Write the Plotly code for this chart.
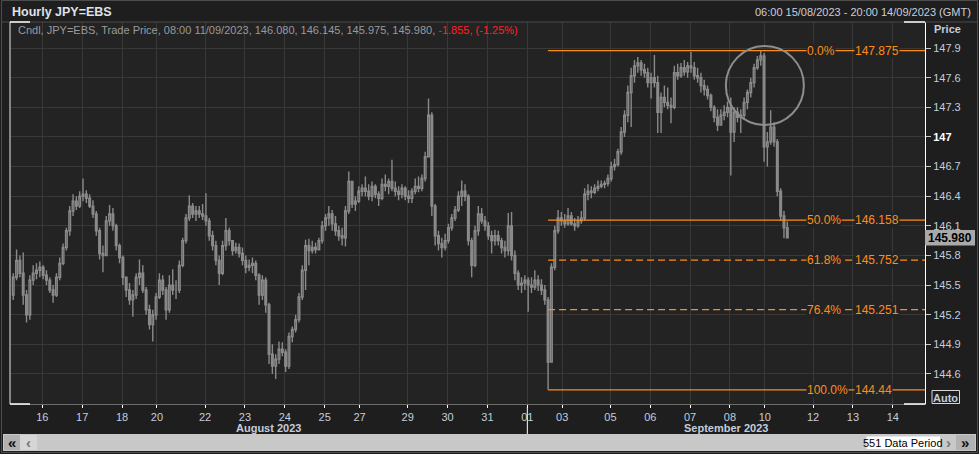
import plotly.graph_objects as go
from datetime import datetime, timedelta

# ---------------- data ----------------
start_time = "2023-08-15 06:00"
n_periods = 551
first_open = 145.40

# 2-hour bars (low, high, close), Aug 15 06:00 -> Sep 11 08:00
bar_low = [
    145.35, 145.55, 145.58, 145.30, 145.12, 145.15, 145.50, 145.56, 145.58, 145.56,
    145.50, 145.42, 145.32, 145.38, 145.55, 145.70, 145.85, 146.00, 146.20, 146.26,
    146.28, 146.35, 146.33, 146.28, 146.18, 146.00, 145.76, 145.63, 145.80, 146.10,
    146.05, 145.85, 145.72, 145.50, 145.38, 145.30, 145.18, 145.36, 145.50, 145.42,
    145.20, 145.05, 144.93, 145.15, 145.36, 145.40, 145.15, 145.22, 145.40, 145.36,
    145.42, 145.68, 145.92, 146.15, 146.18, 146.15, 146.18, 146.16, 146.10, 145.95,
    145.85, 145.70, 145.50, 145.60, 145.85, 145.90, 145.80, 145.82, 145.78, 145.70,
    145.62, 145.64, 145.62, 145.55, 145.30, 145.35, 145.22, 144.70, 144.60, 144.55,
    144.70, 144.78, 144.62, 144.65, 144.92, 145.02, 145.12, 145.35, 145.45, 145.70,
    145.82, 145.82, 145.85, 145.92, 146.05, 146.10, 146.05, 146.00, 145.95, 145.90,
    145.89, 146.22, 146.28, 146.25, 146.33, 146.40, 146.40, 146.36, 146.35, 146.38,
    146.30, 146.36, 146.45, 146.42, 146.45, 146.40, 146.36, 146.38, 146.36, 146.33,
    146.33, 146.42, 146.44, 146.45, 146.55, 146.80, 146.20, 145.90, 145.85, 145.78,
    145.85, 145.92, 146.05, 146.15, 146.24, 146.30, 146.35, 145.90, 145.58, 145.68,
    146.00, 146.12, 146.05, 145.96, 145.82, 145.90, 145.90, 145.82, 145.78, 145.80,
    145.75, 145.55, 145.45, 145.42, 145.45, 145.23, 145.42, 145.45, 145.44, 145.40,
    145.30, 144.44, 144.72, 145.65, 146.02, 146.10, 146.08, 146.10, 146.10, 146.05,
    146.08, 146.12, 146.15, 146.36, 146.38, 146.42, 146.45, 146.48, 146.48, 146.50,
    146.55, 146.66, 146.70, 146.82, 147.00, 147.15, 147.10, 147.55, 147.65, 147.62,
    147.60, 147.50, 147.39, 147.50, 147.04, 147.04, 147.30, 147.28, 147.14, 147.28,
    147.58, 147.60, 147.62, 147.60, 147.65, 147.58, 147.55, 147.45, 147.42, 147.38,
    147.26, 147.15, 147.06, 147.12, 147.17, 147.20, 146.61, 146.95, 147.15, 147.04,
    147.18, 147.28, 147.40, 147.50, 147.68, 147.72, 146.75, 146.70, 146.92, 146.90,
    146.40, 146.15, 145.975, 145.975,
]
bar_high = [
    145.62, 145.86, 145.80, 145.83, 145.45, 145.60, 145.70, 145.72, 145.74, 145.70,
    145.65, 145.58, 145.50, 145.62, 145.78, 145.92, 146.08, 146.30, 146.42, 146.40,
    146.45, 146.58, 146.46, 146.42, 146.36, 146.25, 146.08, 145.90, 146.20, 146.31,
    146.28, 146.12, 145.92, 145.80, 145.58, 145.52, 145.45, 145.62, 145.76, 145.70,
    145.48, 145.30, 145.25, 145.42, 145.62, 145.60, 145.48, 145.60, 145.66, 145.55,
    145.75, 145.98, 146.22, 146.41, 146.33, 146.30, 146.30, 146.32, 146.43, 146.18,
    146.05, 145.95, 145.80, 145.95, 146.18, 146.08, 145.95, 145.93, 145.92, 145.88,
    145.80, 145.76, 145.78, 145.75, 145.62, 145.60, 145.58, 145.32, 144.90, 144.80,
    144.93, 144.92, 144.85, 145.02, 145.08, 145.20, 145.42, 145.70, 145.96, 145.97,
    145.95, 145.93, 145.98, 146.15, 146.22, 146.30, 146.26, 146.20, 146.10, 146.08,
    146.30, 146.65, 146.55, 146.40, 146.50, 146.52, 146.60, 146.52, 146.55, 146.52,
    146.45, 146.58, 146.62, 146.58, 146.77, 146.55, 146.50, 146.52, 146.50, 146.46,
    146.48, 146.58, 146.60, 146.62, 146.85, 147.39, 147.25, 146.32, 146.05, 145.98,
    146.02, 146.12, 146.22, 146.30, 146.45, 146.56, 146.52, 146.42, 145.98, 146.10,
    146.30, 146.28, 146.20, 146.14, 146.05, 146.06, 146.05, 145.98, 145.95, 146.23,
    146.24, 145.85, 145.65, 145.58, 145.60, 145.58, 145.58, 145.65, 145.60, 145.56,
    145.50, 145.38, 145.72, 146.10, 146.26, 146.24, 146.22, 146.28, 146.24, 146.18,
    146.20, 146.25, 146.48, 146.52, 146.50, 146.52, 146.56, 146.56, 146.56, 146.62,
    146.75, 146.78, 146.88, 147.10, 147.27, 147.52, 147.70, 147.78, 147.81, 147.78,
    147.74, 147.70, 147.65, 147.83, 147.62, 147.45, 147.52, 147.50, 147.40, 147.72,
    147.74, 147.75, 147.78, 147.76, 147.86, 147.76, 147.70, 147.65, 147.58, 147.52,
    147.44, 147.32, 147.28, 147.28, 147.32, 147.36, 147.40, 147.30, 147.30, 147.28,
    147.40, 147.48, 147.60, 147.74, 147.82, 147.875, 147.85, 147.05, 147.27, 147.15,
    146.98, 146.48, 146.25, 146.145,
]
bar_close = [
    145.58, 145.75, 145.62, 145.40, 145.20, 145.55, 145.62, 145.65, 145.68, 145.60,
    145.55, 145.45, 145.40, 145.58, 145.72, 145.88, 146.05, 146.25, 146.35, 146.30,
    146.40, 146.42, 146.38, 146.30, 146.22, 146.05, 145.82, 145.80, 146.15, 146.22,
    146.10, 145.90, 145.78, 145.58, 145.45, 145.35, 145.40, 145.58, 145.62, 145.45,
    145.25, 145.10, 145.20, 145.38, 145.55, 145.45, 145.25, 145.50, 145.45, 145.45,
    145.70, 145.95, 146.18, 146.30, 146.22, 146.25, 146.22, 146.20, 146.15, 146.00,
    145.90, 145.75, 145.62, 145.90, 146.05, 145.95, 145.85, 145.88, 145.82, 145.75,
    145.68, 145.70, 145.72, 145.60, 145.40, 145.55, 145.30, 144.80, 144.68, 144.75,
    144.85, 144.82, 144.68, 144.98, 145.05, 145.15, 145.38, 145.65, 145.90, 145.85,
    145.88, 145.86, 145.95, 146.10, 146.18, 146.22, 146.12, 146.05, 146.00, 145.98,
    146.25, 146.55, 146.32, 146.35, 146.45, 146.48, 146.45, 146.40, 146.50, 146.42,
    146.38, 146.52, 146.50, 146.55, 146.48, 146.45, 146.42, 146.48, 146.40, 146.38,
    146.45, 146.50, 146.48, 146.58, 146.80, 147.22, 146.30, 146.00, 145.92, 145.88,
    145.95, 146.08, 146.18, 146.26, 146.40, 146.45, 146.40, 145.95, 145.70, 146.05,
    146.22, 146.15, 146.10, 146.00, 145.95, 146.00, 145.95, 145.88, 145.85, 146.10,
    145.80, 145.62, 145.50, 145.52, 145.55, 145.50, 145.48, 145.55, 145.50, 145.45,
    145.35, 144.72, 145.68, 146.05, 146.18, 146.15, 146.12, 146.20, 146.12, 146.10,
    146.15, 146.18, 146.42, 146.45, 146.44, 146.48, 146.50, 146.52, 146.53, 146.58,
    146.70, 146.72, 146.85, 147.05, 147.22, 147.45, 147.62, 147.72, 147.75, 147.68,
    147.65, 147.55, 147.60, 147.55, 147.25, 147.40, 147.35, 147.32, 147.30, 147.65,
    147.62, 147.70, 147.66, 147.72, 147.70, 147.62, 147.60, 147.52, 147.48, 147.42,
    147.30, 147.20, 147.12, 147.22, 147.25, 147.30, 147.05, 147.25, 147.20, 147.22,
    147.35, 147.45, 147.55, 147.70, 147.78, 147.82, 146.90, 146.95, 147.10, 146.95,
    146.45, 146.20, 146.08, 145.98,
]

fib_high = 147.875
fib_low = 144.44
fib_ratios = [0.0, 0.5, 0.618, 0.764, 1.0]
fib_pct_labels = ["0.0%", "50.0%", "61.8%", "76.4%", "100.0%"]
fib_value_labels = ["147.875", "146.158", "145.752", "145.251", "144.44"]
fib_dashed = [False, False, True, True, False]

y_tick_values = [144.6, 144.9, 145.2, 145.5, 145.8, 146.1, 146.4, 146.7, 147.0, 147.3, 147.6, 147.9]
y_tick_labels = ["144.6", "144.9", "145.2", "145.5", "145.8", "146.1", "146.4", "146.7",
                 "<b><span style='color:#ffffff'>147</span></b>", "147.3", "147.6", "147.9"]

x_tick_times = ["2023-08-16 00:00", "2023-08-17 00:00", "2023-08-18 00:00", "2023-08-20 19:00",
                "2023-08-22 00:00", "2023-08-23 00:00", "2023-08-24 00:00", "2023-08-25 00:00",
                "2023-08-27 19:00", "2023-08-29 00:00", "2023-08-30 00:00", "2023-08-31 00:00",
                "2023-09-01 00:00", "2023-09-03 19:00", "2023-09-05 00:00", "2023-09-06 00:00",
                "2023-09-07 00:00", "2023-09-08 00:00", "2023-09-10 19:00", "2023-09-12 00:00",
                "2023-09-13 00:00", "2023-09-14 00:00"]
x_tick_labels = ["16", "17", "18", "20", "22", "23", "24", "25", "27", "29", "30", "31",
                 "01", "03", "05", "06", "07", "08", "10", "12", "13", "14"]
month_labels = ["August 2023", "September 2023"]
month_boundary_time = "2023-09-01 00:00"

last_price = 145.980
info_text = "Cndl, JPY=EBS, Trade Price, 08:00 11/09/2023, 146.080, 146.145, 145.975, 145.980, "
info_change = "-1.855, (-1.25%)"
circle_center_time = "2023-09-10 19:00"
circle_center_price = 147.52

# ---------------- styling ----------------
W, H = 979, 454
PL, PR, PT, PB = 10, 925, 22, 404
PAPER_BG = "#1e1e1e"
PLOT_BG = "#232323"
GRID = "#383838"
CANDLE = "#8a8a8a"
ORANGE = "#ff8c1a"
AXIS_TXT = "#c4cddc"
FONT = "Liberation Sans"


def px_x(px):
    return (px - PL) / (PR - PL)


def px_y(py):
    return (PB - py) / (PB - PT)


# trading calendar (hourly; market closed Fri 21:00 -> Sun 19:00)
def trading_hours(start, n):
    t = datetime.strptime(start, "%Y-%m-%d %H:%M")
    out = []
    while len(out) < n:
        wd = t.weekday()
        closed = (wd == 4 and t.hour >= 21) or wd == 5 or (wd == 6 and t.hour < 19)
        if not closed:
            out.append(t)
        t += timedelta(hours=1)
    return out


hours = trading_hours(start_time, n_periods)
pos = {h.strftime("%Y-%m-%d %H:%M"): i for i, h in enumerate(hours)}

n_bars = len(bar_close)
bar_x = [2 * k + 0.5 for k in range(n_bars)]
bar_open = [first_open] + bar_close[:-1]

x_range = [-1.45, 549.4]
y_range = [144.296, 148.164]

fig = go.Figure()
fig.add_trace(go.Candlestick(
    x=bar_x, open=bar_open, high=bar_high, low=bar_low, close=bar_close,
    increasing=dict(line=dict(color=CANDLE, width=1.4), fillcolor=PLOT_BG),
    decreasing=dict(line=dict(color=CANDLE, width=1.4), fillcolor=CANDLE),
    whiskerwidth=0, hoverinfo="skip", showlegend=False,
))

shapes = []
annotations = []

# Fibonacci retracement lines
low_bar = bar_low.index(min(bar_low))
fib_x0 = bar_x[low_bar]
for r, pl, vl, dashed in zip(fib_ratios, fib_pct_labels, fib_value_labels, fib_dashed):
    lvl = fib_high - r * (fib_high - fib_low)
    shapes.append(dict(type="line", xref="x", yref="y", x0=fib_x0, x1=x_range[1], y0=lvl, y1=lvl,
                       line=dict(color=ORANGE, width=1.3, dash="7px,4px" if dashed else "solid")))
    annotations.append(dict(xref="paper", yref="y", x=px_x(806), y=lvl, text=pl, showarrow=False,
                            xanchor="left", yanchor="middle", bgcolor=PLOT_BG, borderpad=0,
                            font=dict(color=ORANGE, size=12, family=FONT)))
    annotations.append(dict(xref="paper", yref="y", x=px_x(854), y=lvl, text=vl, showarrow=False,
                            xanchor="left", yanchor="middle", bgcolor=PLOT_BG, borderpad=0,
                            font=dict(color=ORANGE, size=12, family=FONT)))

# highlight circle
cx = pos[circle_center_time]
rx = 39 / ((PR - PL) / (x_range[1] - x_range[0]))
ry = 39.5 * (y_range[1] - y_range[0]) / (PB - PT)
shapes.append(dict(type="circle", xref="x", yref="y", x0=cx - rx, x1=cx + rx,
                   y0=circle_center_price - ry, y1=circle_center_price + ry,
                   line=dict(color="#8e8e8e", width=2)))

# frame pieces
shapes += [
    dict(type="rect", xref="paper", yref="paper", x0=px_x(1.5), x1=px_x(977.5), y0=px_y(452.5), y1=px_y(0.5),
         line=dict(color="#4c4c4c", width=1), layer="below"),
    dict(type="line", xref="paper", yref="paper", x0=px_x(1.5), x1=px_x(977.5), y0=1, y1=1,
         line=dict(color="#4a4a4a", width=1)),
    dict(type="line", xref="paper", yref="paper", x0=0, x1=0, y0=0, y1=1, line=dict(color="#e8e8e8", width=1)),
    dict(type="line", xref="paper", yref="paper", x0=0, x1=px_x(30), y0=1, y1=1, line=dict(color="#ffffff", width=1.5)),
    dict(type="line", xref="paper", yref="paper", x0=px_x(904), x1=1, y0=1, y1=1, line=dict(color="#ffffff", width=1.5)),
    dict(type="line", xref="paper", yref="paper", x0=0, x1=px_x(30), y0=0, y1=0, line=dict(color="#ffffff", width=1.5)),
    dict(type="line", xref="paper", yref="paper", x0=px_x(904), x1=1, y0=0, y1=0, line=dict(color="#ffffff", width=1.5)),
]
# month boundary marker
mb = pos[month_boundary_time]
shapes.append(dict(type="line", xref="x", yref="paper", x0=mb, x1=mb, y0=px_y(407), y1=px_y(434),
                   line=dict(color="#ffffff", width=1)))

# last price box
shapes.append(dict(type="rect", xref="paper", yref="y", x0=1.0, x1=px_x(975),
                   y0=last_price - 0.078, y1=last_price + 0.078, fillcolor="#a9a9a9", line=dict(width=0)))
annotations.append(dict(xref="paper", yref="y", x=px_x(950), y=last_price, text="<b>%.3f</b>" % last_price,
                        showarrow=False, xanchor="center", yanchor="middle",
                        font=dict(color="#000000", size=12, family=FONT)))

# Auto box
shapes.append(dict(type="rect", xref="paper", yref="paper", x0=px_x(932), x1=px_x(959.5),
                   y0=px_y(403.5), y1=px_y(390.5), line=dict(color="#d8d8d8", width=1)))
annotations.append(dict(xref="paper", yref="paper", x=px_x(945.5), y=px_y(397.5), text="<b>Auto</b>",
                        showarrow=False, xanchor="center", yanchor="middle",
                        font=dict(color=AXIS_TXT, size=11, family=FONT)))

# bottom scroll bar
shapes += [
    dict(type="rect", xref="paper", yref="paper", x0=px_x(3), x1=px_x(976), y0=px_y(451), y1=px_y(434),
         fillcolor="#c8c8c8", line=dict(width=0)),
    dict(type="rect", xref="paper", yref="paper", x0=px_x(4), x1=px_x(20), y0=px_y(450), y1=px_y(435),
         fillcolor="#b2b2b2", line=dict(width=0)),
    dict(type="rect", xref="paper", yref="paper", x0=px_x(20), x1=px_x(37), y0=px_y(450), y1=px_y(435),
         fillcolor="#d6d6d6", line=dict(width=0)),
    dict(type="rect", xref="paper", yref="paper", x0=px_x(866.5), x1=px_x(940), y0=px_y(449), y1=px_y(436.5),
         fillcolor="#ffffff", line=dict(width=0)),
    dict(type="rect", xref="paper", yref="paper", x0=px_x(956), x1=px_x(975), y0=px_y(450), y1=px_y(435),
         fillcolor="#b2b2b2", line=dict(width=0)),
]
annotations += [
    dict(xref="paper", yref="paper", x=px_x(12), y=px_y(442.5), text="<b>«</b>", showarrow=False,
         xanchor="center", yanchor="middle", font=dict(color="#111111", size=15, family=FONT)),
    dict(xref="paper", yref="paper", x=px_x(28.5), y=px_y(442.5), text="<b>‹</b>", showarrow=False,
         xanchor="center", yanchor="middle", font=dict(color="#777777", size=15, family=FONT)),
    dict(xref="paper", yref="paper", x=px_x(903), y=px_y(442.5), text="551 Data Period", showarrow=False,
         xanchor="center", yanchor="middle", font=dict(color="#000000", size=11, family=FONT)),
    dict(xref="paper", yref="paper", x=px_x(948), y=px_y(442.5), text="<b>›</b>", showarrow=False,
         xanchor="center", yanchor="middle", font=dict(color="#777777", size=15, family=FONT)),
    dict(xref="paper", yref="paper", x=px_x(965.5), y=px_y(442.5), text="<b>»</b>", showarrow=False,
         xanchor="center", yanchor="middle", font=dict(color="#111111", size=15, family=FONT)),
]

# header texts
annotations += [
    dict(xref="paper", yref="paper", x=px_x(10), y=px_y(12), text="<b>Hourly JPY=EBS</b>", showarrow=False,
         xanchor="left", yanchor="middle", font=dict(color="#dde2ea", size=12.5, family=FONT)),
    dict(xref="paper", yref="paper", x=px_x(973), y=px_y(12),
         text="06:00 15/08/2023 - 20:00 14/09/2023 (GMT)", showarrow=False,
         xanchor="right", yanchor="middle", font=dict(color="#c8cfdb", size=11, family=FONT)),
    dict(xref="paper", yref="paper", x=px_x(16), y=px_y(30),
         text=info_text + "<span style='color:#ff2222'>" + info_change + "</span>", showarrow=False,
         xanchor="left", yanchor="middle", font=dict(color="#9a9a9a", size=11, family=FONT)),
    dict(xref="paper", yref="paper", x=px_x(932), y=px_y(29), text="<b>Price</b>", showarrow=False,
         xanchor="left", yanchor="middle", font=dict(color=AXIS_TXT, size=11, family=FONT)),
    dict(xref="paper", yref="paper", x=px_x(268), y=px_y(428), text="<b>" + month_labels[0] + "</b>",
         showarrow=False, xanchor="center", yanchor="middle", font=dict(color=AXIS_TXT, size=11, family=FONT)),
    dict(xref="paper", yref="paper", x=px_x(726), y=px_y(428), text="<b>" + month_labels[1] + "</b>",
         showarrow=False, xanchor="center", yanchor="middle", font=dict(color=AXIS_TXT, size=11, family=FONT)),
]

fig.update_layout(
    width=W, height=H,
    margin=dict(l=PL, r=W - PR, t=PT, b=H - PB, pad=0),
    paper_bgcolor=PAPER_BG, plot_bgcolor=PLOT_BG,
    font=dict(family=FONT, size=11, color=AXIS_TXT),
    showlegend=False,
    shapes=shapes, annotations=annotations,
    xaxis=dict(
        range=x_range, rangeslider=dict(visible=False),
        tickmode="array", tickvals=[pos[t] for t in x_tick_times], ticktext=x_tick_labels,
        ticks="outside", ticklen=3, tickcolor="#ffffff", tickwidth=1,
        tickfont=dict(color=AXIS_TXT, size=11, family=FONT),
        showgrid=True, gridcolor=GRID, gridwidth=1, zeroline=False,
        showline=True, linecolor="#6e6e6e", linewidth=1,
        fixedrange=True,
    ),
    yaxis=dict(
        range=y_range, side="right",
        tickmode="array", tickvals=y_tick_values, ticktext=y_tick_labels,
        ticks="outside", ticklen=5, tickcolor="#c8c8c8", tickwidth=1,
        tickfont=dict(color=AXIS_TXT, size=11, family=FONT),
        showgrid=True, gridcolor=GRID, gridwidth=1, zeroline=False,
        showline=True, linecolor="#ffffff", linewidth=1,
        fixedrange=True,
    ),
)

fig.write_html(
    "out.html",
    config={"displayModeBar": False, "staticPlot": True},
    post_script="document.body.style.margin='0';document.body.style.padding='0';"
                "document.body.style.background='" + PAPER_BG + "';",
)
